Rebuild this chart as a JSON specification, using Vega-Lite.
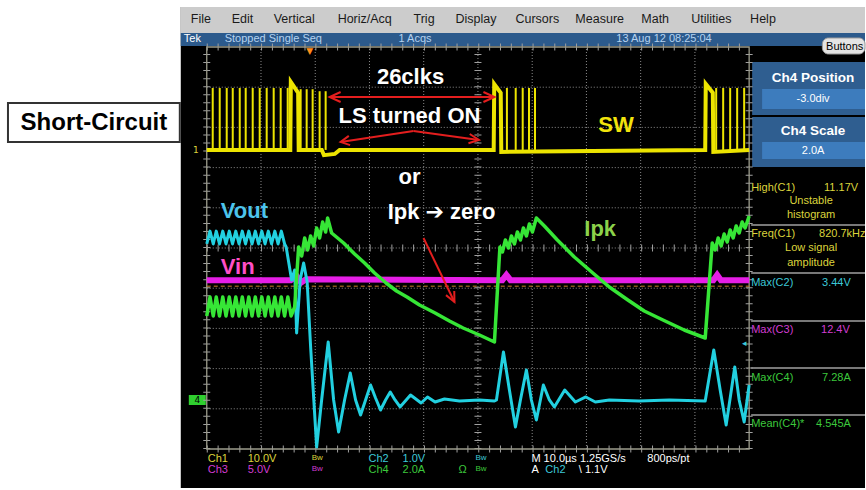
{
"$schema":"https://vega.github.io/schema/vega-lite/v6.json",
"width":866,"height":490,
"autosize":{"type":"fit","contains":"padding"},
"padding":0,
"background":"#ffffff",
"config":{"view":{"stroke":null},"font":"Liberation Sans"},
"encoding":{
 "x":{"field":"t","type":"quantitative","scale":{"domain":[-38.12,121.36],"nice":false,"zero":false},"axis":null},
 "y":{"field":"v","type":"quantitative","scale":{"domain":[-6.02,6.169],"nice":false,"zero":false},"axis":null}
},
"datasets":{
 "rects":[
  {"c":"screen","t":-4.79,"t2":121.36,"v":-5.97,"v2":5.995},
  {"c":"menubar","t":-4.79,"t2":121.36,"v":5.348,"v2":5.995},
  {"c":"statusbar","t":-4.79,"t2":121.36,"v":5.025,"v2":5.348},
  {"c":"box","t":100.55,"t2":121.36,"v":3.308,"v2":4.627},
  {"c":"field","t":102.39,"t2":121.36,"v":3.458,"v2":3.955},
  {"c":"box","t":100.55,"t2":121.36,"v":2.015,"v2":3.259},
  {"c":"field","t":102.39,"t2":121.36,"v":2.214,"v2":2.637},
  {"c":"tag","t":-3.31,"t2":-0.18,"v":-3.905,"v2":-3.657}
 ],
 "gridlines":[
  {"t":10,"t2":10,"v":-5,"v2":5},{"t":20,"t2":20,"v":-5,"v2":5},{"t":30,"t2":30,"v":-5,"v2":5},{"t":40,"t2":40,"v":-5,"v2":5},{"t":50,"t2":50,"v":-5,"v2":5},
  {"t":60,"t2":60,"v":-5,"v2":5},{"t":70,"t2":70,"v":-5,"v2":5},{"t":80,"t2":80,"v":-5,"v2":5},{"t":90,"t2":90,"v":-5,"v2":5},
  {"t":0,"t2":100,"v":-4,"v2":-4},{"t":0,"t2":100,"v":-3,"v2":-3},{"t":0,"t2":100,"v":-2,"v2":-2},{"t":0,"t2":100,"v":-1,"v2":-1},{"t":0,"t2":100,"v":0,"v2":0},
  {"t":0,"t2":100,"v":1,"v2":1},{"t":0,"t2":100,"v":2,"v2":2},{"t":0,"t2":100,"v":3,"v2":3},{"t":0,"t2":100,"v":4,"v2":4}
 ],
 "tickrows":[
  {"d":"h","t":0,"t2":100,"v":0,"v2":0},{"d":"h","t":0,"t2":100,"v":5,"v2":5},{"d":"h","t":0,"t2":100,"v":-5,"v2":-5},
  {"d":"v","t":50,"t2":50,"v":-5,"v2":5},{"d":"v","t":0,"t2":0,"v":-5,"v2":5},{"d":"v","t":100,"t2":100,"v":-5,"v2":5}
 ],
 "seps":[
  {"t":100.37,"t2":121.36,"v":0.572,"v2":0.572},{"t":100.37,"t2":121.36,"v":-0.622,"v2":-0.622},{"t":100.37,"t2":121.36,"v":-1.816,"v2":-1.816},
  {"t":100.37,"t2":121.36,"v":-2.985,"v2":-2.985},{"t":100.37,"t2":121.36,"v":-4.154,"v2":-4.154}
 ],
 "wave":[
  {"ch":"m","t":0,"v":-0.8},{"ch":"m","t":15.5,"v":-0.8},{"ch":"m","t":16.6,"v":-0.7},{"ch":"m","t":17.4,"v":-0.86},{"ch":"m","t":18.3,"v":-0.78},{"ch":"m","t":54.5,"v":-0.8},{"ch":"m","t":55.25,"v":-0.67},{"ch":"m","t":56.0,"v":-0.8},{"ch":"m","t":93.4,"v":-0.8},{"ch":"m","t":94.1,"v":-0.67},{"ch":"m","t":94.8,"v":-0.8},{"ch":"m","t":100,"v":-0.8},
  {"ch":"c","t":0,"v":0.1},{"ch":"c","t":0.6,"v":0.42},{"ch":"c","t":1.2,"v":0.1},{"ch":"c","t":1.75,"v":0.42},{"ch":"c","t":2.35,"v":0.1},{"ch":"c","t":2.95,"v":0.42},{"ch":"c","t":3.55,"v":0.1},{"ch":"c","t":4.15,"v":0.42},{"ch":"c","t":4.75,"v":0.1},{"ch":"c","t":5.35,"v":0.42},{"ch":"c","t":5.95,"v":0.1},{"ch":"c","t":6.55,"v":0.42},{"ch":"c","t":7.15,"v":0.1},{"ch":"c","t":7.75,"v":0.42},{"ch":"c","t":8.35,"v":0.1},{"ch":"c","t":8.95,"v":0.42},{"ch":"c","t":9.55,"v":0.1},{"ch":"c","t":10.15,"v":0.42},{"ch":"c","t":10.75,"v":0.1},{"ch":"c","t":11.35,"v":0.42},{"ch":"c","t":11.95,"v":0.1},{"ch":"c","t":12.55,"v":0.42},{"ch":"c","t":13.15,"v":0.1},{"ch":"c","t":13.75,"v":0.42},{"ch":"c","t":14.35,"v":0.1},
  {"ch":"c","t":14.64,"v":0.025},{"ch":"c","t":15.65,"v":-0.796},{"ch":"c","t":16.21,"v":-0.547},{"ch":"c","t":16.57,"v":-2.114},{"ch":"c","t":17.22,"v":-0.796},{"ch":"c","t":17.86,"v":-0.373},{"ch":"c","t":18.51,"v":-0.846},{"ch":"c","t":19.15,"v":-2.463},{"ch":"c","t":20.26,"v":-4.95},{"ch":"c","t":21.18,"v":-3.781},{"ch":"c","t":22.39,"v":-2.338},{"ch":"c","t":23.39,"v":-3.781},{"ch":"c","t":24.31,"v":-4.577},{"ch":"c","t":25.41,"v":-3.781},{"ch":"c","t":26.46,"v":-3.109},{"ch":"c","t":27.44,"v":-3.781},{"ch":"c","t":28.36,"v":-4.154},{"ch":"c","t":29.28,"v":-3.781},{"ch":"c","t":30.2,"v":-3.408},{"ch":"c","t":31.12,"v":-3.731},{"ch":"c","t":32.04,"v":-4.03},{"ch":"c","t":32.97,"v":-3.781},{"ch":"c","t":33.83,"v":-3.582},{"ch":"c","t":34.71,"v":-3.781},{"ch":"c","t":35.64,"v":-3.955},{"ch":"c","t":37.57,"v":-3.657},{"ch":"c","t":39.52,"v":-3.856},{"ch":"c","t":40.7,"v":-3.706},{"ch":"c","t":42.1,"v":-3.831},{"ch":"c","t":43.83,"v":-3.756},{"ch":"c","t":46.59,"v":-3.806},{"ch":"c","t":50.28,"v":-3.781},{"ch":"c","t":53.04,"v":-3.806},{"ch":"c","t":53.41,"v":-3.781},{"ch":"c","t":54.7,"v":-2.587},{"ch":"c","t":55.8,"v":-3.532},{"ch":"c","t":56.91,"v":-4.453},{"ch":"c","t":57.83,"v":-3.781},{"ch":"c","t":58.93,"v":-3.035},{"ch":"c","t":59.85,"v":-3.781},{"ch":"c","t":60.77,"v":-4.279},{"ch":"c","t":62.06,"v":-3.408},{"ch":"c","t":63.17,"v":-3.781},{"ch":"c","t":64.09,"v":-3.955},{"ch":"c","t":66.0,"v":-3.532},{"ch":"c","t":67.96,"v":-3.831},{"ch":"c","t":69.89,"v":-3.706},{"ch":"c","t":71.64,"v":-3.831},{"ch":"c","t":74.22,"v":-3.781},{"ch":"c","t":79.74,"v":-3.806},{"ch":"c","t":85.27,"v":-3.781},{"ch":"c","t":91.9,"v":-3.806},{"ch":"c","t":93.48,"v":-2.537},{"ch":"c","t":94.66,"v":-3.532},{"ch":"c","t":95.76,"v":-4.403},{"ch":"c","t":97.35,"v":-2.96},{"ch":"c","t":98.16,"v":-3.781},{"ch":"c","t":99.08,"v":-4.328},{"ch":"c","t":100,"v":-3.408},
  {"ch":"g","t":0,"v":-1.69},{"ch":"g","t":0.6,"v":-1.22},{"ch":"g","t":1.2,"v":-1.69},{"ch":"g","t":1.75,"v":-1.22},{"ch":"g","t":2.35,"v":-1.69},{"ch":"g","t":2.95,"v":-1.22},{"ch":"g","t":3.55,"v":-1.69},{"ch":"g","t":4.15,"v":-1.22},{"ch":"g","t":4.75,"v":-1.69},{"ch":"g","t":5.35,"v":-1.22},{"ch":"g","t":5.95,"v":-1.69},{"ch":"g","t":6.55,"v":-1.22},{"ch":"g","t":7.15,"v":-1.69},{"ch":"g","t":7.75,"v":-1.22},{"ch":"g","t":8.35,"v":-1.69},{"ch":"g","t":8.95,"v":-1.22},{"ch":"g","t":9.55,"v":-1.69},{"ch":"g","t":10.15,"v":-1.22},{"ch":"g","t":10.75,"v":-1.69},{"ch":"g","t":11.35,"v":-1.22},{"ch":"g","t":11.95,"v":-1.69},{"ch":"g","t":12.55,"v":-1.22},{"ch":"g","t":13.15,"v":-1.69},{"ch":"g","t":13.75,"v":-1.22},{"ch":"g","t":14.35,"v":-1.69},{"ch":"g","t":14.95,"v":-1.22},{"ch":"g","t":15.55,"v":-1.69},
  {"ch":"g","t":16.21,"v":-1.468},{"ch":"g","t":16.94,"v":0.025},{"ch":"g","t":17.5,"v":-0.199},{"ch":"g","t":18.05,"v":0.249},{"ch":"g","t":18.6,"v":-0.05},{"ch":"g","t":19.15,"v":0.299},{"ch":"g","t":19.71,"v":0.05},{"ch":"g","t":20.26,"v":0.498},{"ch":"g","t":20.81,"v":0.249},{"ch":"g","t":21.36,"v":0.647},{"ch":"g","t":21.92,"v":0.398},{"ch":"g","t":22.28,"v":0.746},{"ch":"g","t":23.02,"v":0.373},{"ch":"g","t":24.13,"v":0.249},{"ch":"g","t":25.23,"v":0.124},{"ch":"g","t":27.26,"v":-0.149},{"ch":"g","t":29.1,"v":-0.373},{"ch":"g","t":30.94,"v":-0.622},{"ch":"g","t":33.06,"v":-0.871},{"ch":"g","t":34.99,"v":-1.07},{"ch":"g","t":36.92,"v":-1.219},{"ch":"g","t":39.23,"v":-1.418},{"ch":"g","t":42.1,"v":-1.617},{"ch":"g","t":44.75,"v":-1.816},{"ch":"g","t":47.27,"v":-1.99},{"ch":"g","t":50.28,"v":-2.164},{"ch":"g","t":53.04,"v":-2.338},
  {"ch":"g","t":54.05,"v":0.025},{"ch":"g","t":54.51,"v":-0.1},{"ch":"g","t":55.06,"v":0.199},{"ch":"g","t":55.62,"v":0},{"ch":"g","t":56.17,"v":0.299},{"ch":"g","t":56.72,"v":0.1},{"ch":"g","t":57.27,"v":0.398},{"ch":"g","t":57.83,"v":0.199},{"ch":"g","t":58.38,"v":0.498},{"ch":"g","t":58.93,"v":0.299},{"ch":"g","t":59.48,"v":0.597},{"ch":"g","t":60.04,"v":0.398},{"ch":"g","t":60.77,"v":0.746},{"ch":"g","t":62.25,"v":0.547},{"ch":"g","t":64.64,"v":0.199},{"ch":"g","t":67.77,"v":-0.224},{"ch":"g","t":71.18,"v":-0.622},{"ch":"g","t":74.22,"v":-0.97},{"ch":"g","t":77.64,"v":-1.294},{"ch":"g","t":80.66,"v":-1.567},{"ch":"g","t":84.11,"v":-1.791},{"ch":"g","t":88.03,"v":-2.04},{"ch":"g","t":91.9,"v":-2.239},
  {"ch":"g","t":93.19,"v":0.124},{"ch":"g","t":93.74,"v":-0.05},{"ch":"g","t":94.29,"v":0.249},{"ch":"g","t":94.84,"v":0.05},{"ch":"g","t":95.4,"v":0.348},{"ch":"g","t":95.95,"v":0.149},{"ch":"g","t":96.5,"v":0.448},{"ch":"g","t":97.05,"v":0.249},{"ch":"g","t":97.61,"v":0.547},{"ch":"g","t":98.16,"v":0.373},{"ch":"g","t":98.71,"v":0.647},{"ch":"g","t":99.26,"v":0.498},{"ch":"g","t":100,"v":0.796},
  {"ch":"y","t":0,"v":2.44},{"ch":"y","t":15.4,"v":2.44},{"ch":"y","t":15.5,"v":4.13},{"ch":"y","t":16.85,"v":3.86},{"ch":"y","t":16.95,"v":2.44},{"ch":"y","t":21.2,"v":2.44},{"ch":"y","t":21.6,"v":2.31},{"ch":"y","t":23.6,"v":2.34},{"ch":"y","t":24.5,"v":2.44},{"ch":"y","t":52.9,"v":2.44},{"ch":"y","t":53.0,"v":4.08},{"ch":"y","t":54.2,"v":3.86},{"ch":"y","t":54.3,"v":2.39},{"ch":"y","t":91.9,"v":2.44},{"ch":"y","t":92.0,"v":4.08},{"ch":"y","t":93.3,"v":3.86},{"ch":"y","t":93.4,"v":2.39},{"ch":"y","t":100,"v":2.44}
 ],
 "pulses":[
  {"t":1.1,"lo":2.44,"hi":3.98},{"t":2.39,"lo":2.44,"hi":3.98},{"t":3.68,"lo":2.44,"hi":3.98},{"t":4.79,"lo":2.44,"hi":3.98},{"t":6.08,"lo":2.44,"hi":3.98},{"t":7.18,"lo":2.44,"hi":3.98},{"t":8.47,"lo":2.44,"hi":3.98},{"t":9.76,"lo":2.44,"hi":3.98},{"t":11.05,"lo":2.44,"hi":3.98},{"t":12.34,"lo":2.44,"hi":3.98},{"t":13.63,"lo":2.44,"hi":3.98},{"t":14.92,"lo":2.44,"hi":3.98},
  {"t":17.31,"lo":2.44,"hi":3.95},{"t":18.42,"lo":2.44,"hi":3.95},{"t":19.52,"lo":2.44,"hi":3.95},{"t":20.81,"lo":2.44,"hi":3.9},{"t":21.92,"lo":2.44,"hi":3.9},
  {"t":55.34,"lo":2.44,"hi":3.98},{"t":56.96,"lo":2.44,"hi":3.98},{"t":58.25,"lo":2.44,"hi":3.98},{"t":59.41,"lo":2.44,"hi":3.98},{"t":60.52,"lo":2.44,"hi":3.98},
  {"t":93.92,"lo":2.44,"hi":3.98},{"t":95.21,"lo":2.44,"hi":3.98},{"t":96.5,"lo":2.44,"hi":3.98},{"t":97.79,"lo":2.44,"hi":3.98},{"t":99.08,"lo":2.44,"hi":3.98}
 ],
 "arrows":[
  {"id":"a1","i":0,"t":22.65,"v":3.756},{"id":"a1","i":1,"t":53.04,"v":3.756},
  {"id":"a1l","i":0,"t":24.68,"v":3.881},{"id":"a1l","i":1,"t":22.65,"v":3.756},{"id":"a1l","i":2,"t":24.68,"v":3.632},
  {"id":"a1r","i":0,"t":51.01,"v":3.881},{"id":"a1r","i":1,"t":53.04,"v":3.756},{"id":"a1r","i":2,"t":51.01,"v":3.632},
  {"id":"a2","i":0,"t":38.12,"v":2.91},{"id":"a2","i":1,"t":24.68,"v":2.637},
  {"id":"a2h","i":0,"t":26.43,"v":2.56},{"id":"a2h","i":1,"t":24.68,"v":2.637},{"id":"a2h","i":2,"t":26.19,"v":2.788},
  {"id":"a3","i":0,"t":38.12,"v":2.91},{"id":"a3","i":1,"t":50.18,"v":2.687},
  {"id":"a3h","i":0,"t":48.49,"v":2.836},{"id":"a3h","i":1,"t":50.18,"v":2.687},{"id":"a3h","i":2,"t":48.25,"v":2.604},
  {"id":"a4","i":0,"t":39.96,"v":0.249},{"id":"a4","i":1,"t":45.67,"v":-1.343},
  {"id":"a4h","i":0,"t":45.63,"v":-1.07},{"id":"a4h","i":1,"t":45.67,"v":-1.343},{"id":"a4h","i":2,"t":44.11,"v":-1.172}
 ],
 "txt":[
  {"g":"ann","t":37.57,"v":4.254,"s":"26clks","c":"white"},
  {"g":"ann","t":37.38,"v":3.284,"s":"LS turned ON","c":"white"},
  {"g":"ann","t":37.38,"v":1.766,"s":"or","c":"white"},
  {"g":"ann","t":43.28,"v":0.896,"s":"Ipk ➔ zero","c":"white"},
  {"g":"lab","t":2.58,"v":0.92,"s":"Vout","c":"lvout"},
  {"g":"lab","t":2.58,"v":-0.473,"s":"Vin","c":"lvin"},
  {"g":"lab","t":69.61,"v":0.473,"s":"Ipk","c":"lipk"},
  {"g":"lab","t":72.19,"v":3.06,"s":"SW","c":"lsw"},
  {"g":"short","t":-20.81,"v":3.109,"s":"Short-Circuit","c":"black"},
  {"g":"menu","t":-2.95,"v":5.697,"s":"File","c":"menu"},
  {"g":"menu","t":4.6,"v":5.697,"s":"Edit","c":"menu"},
  {"g":"menu","t":12.34,"v":5.697,"s":"Vertical","c":"menu"},
  {"g":"menu","t":24.13,"v":5.697,"s":"Horiz/Acq","c":"menu"},
  {"g":"menu","t":38.12,"v":5.697,"s":"Trig","c":"menu"},
  {"g":"menu","t":45.86,"v":5.697,"s":"Display","c":"menu"},
  {"g":"menu","t":56.91,"v":5.697,"s":"Cursors","c":"menu"},
  {"g":"menu","t":67.96,"v":5.697,"s":"Measure","c":"menu"},
  {"g":"menu","t":80.11,"v":5.697,"s":"Math","c":"menu"},
  {"g":"menu","t":89.32,"v":5.697,"s":"Utilities","c":"menu"},
  {"g":"menu","t":100.18,"v":5.697,"s":"Help","c":"menu"},
  {"g":"s11","t":-4.24,"v":5.187,"s":"Tek","c":"white"},
  {"g":"s11","t":3.31,"v":5.187,"s":"Stopped  Single Seq","c":"stat"},
  {"g":"s11","t":35.36,"v":5.187,"s":"1 Acqs","c":"stat"},
  {"g":"s11","t":75.51,"v":5.187,"s":"13 Aug 12 08:25:04","c":"stat"},
  {"g":"s11","t":114.18,"v":5.012,"s":"Buttons","c":"black"},
  {"g":"s11","t":100.37,"v":1.493,"s":"High(C1)","c":"ch1"},
  {"g":"s11","t":113.81,"v":1.493,"s":"11.17V","c":"ch1"},
  {"g":"s11","t":100.37,"v":0.348,"s":"Freq(C1)","c":"ch1"},
  {"g":"s11","t":112.89,"v":0.348,"s":"820.7kHz","c":"ch1"},
  {"g":"s11","t":100.37,"v":-0.871,"s":"Max(C2)","c":"ch2"},
  {"g":"s11","t":113.44,"v":-0.871,"s":"3.44V","c":"ch2"},
  {"g":"s11","t":100.37,"v":-2.04,"s":"Max(C3)","c":"ch3"},
  {"g":"s11","t":113.26,"v":-2.04,"s":"12.4V","c":"ch3"},
  {"g":"s11","t":100.37,"v":-3.234,"s":"Max(C4)","c":"ch4"},
  {"g":"s11","t":113.44,"v":-3.234,"s":"7.28A","c":"ch4"},
  {"g":"s11","t":100.37,"v":-4.378,"s":"Mean(C4)*","c":"ch4"},
  {"g":"s11","t":112.34,"v":-4.378,"s":"4.545A","c":"ch4"},
  {"g":"s11","t":0.18,"v":-5.249,"s":"Ch1","c":"ch1"},
  {"g":"s11","t":7.55,"v":-5.249,"s":"10.0V","c":"ch1"},
  {"g":"s11","t":29.83,"v":-5.249,"s":"Ch2","c":"ch2"},
  {"g":"s11","t":36.1,"v":-5.249,"s":"1.0V","c":"ch2"},
  {"g":"s11","t":59.85,"v":-5.249,"s":"M 10.0µs 1.25GS/s","c":"white"},
  {"g":"s11","t":81.22,"v":-5.249,"s":"800ps/pt","c":"white"},
  {"g":"s11","t":0.18,"v":-5.522,"s":"Ch3","c":"ch3"},
  {"g":"s11","t":7.55,"v":-5.522,"s":"5.0V","c":"ch3"},
  {"g":"s11","t":29.83,"v":-5.522,"s":"Ch4","c":"ch4"},
  {"g":"s11","t":36.1,"v":-5.522,"s":"2.0A","c":"ch4"},
  {"g":"s11","t":46.41,"v":-5.522,"s":"Ω","c":"ch4"},
  {"g":"s11","t":59.85,"v":-5.522,"s":"A","c":"white"},
  {"g":"s11","t":62.43,"v":-5.522,"s":"Ch2","c":"ch2"},
  {"g":"s11","t":68.6,"v":-5.522,"s":"\\  1.1V","c":"white"},
  {"g":"c11","t":111.42,"v":1.169,"s":"Unstable","c":"ch1"},
  {"g":"c11","t":111.42,"v":0.821,"s":"histogram","c":"ch1"},
  {"g":"c11","t":111.42,"v":0.0,"s":"Low signal","c":"ch1"},
  {"g":"c11","t":111.42,"v":-0.373,"s":"amplitude","c":"ch1"},
  {"g":"ptitle","t":111.79,"v":4.229,"s":"Ch4 Position","c":"white"},
  {"g":"ptitle","t":111.79,"v":2.91,"s":"Ch4 Scale","c":"white"},
  {"g":"pval","t":111.79,"v":3.706,"s":"-3.0div","c":"white"},
  {"g":"pval","t":111.79,"v":2.425,"s":"2.0A","c":"white"},
  {"g":"bw","t":19.34,"v":-5.22,"s":"Bw","c":"ch1"},
  {"g":"bw","t":49.54,"v":-5.22,"s":"Bw","c":"ch2"},
  {"g":"bw","t":19.34,"v":-5.49,"s":"Bw","c":"ch3"},
  {"g":"bw","t":49.54,"v":-5.49,"s":"Bw","c":"ch4"},
  {"g":"misc","t":-2.03,"v":2.44,"s":"1","c":"ch1"},
  {"g":"misc","t":-1.75,"v":-3.781,"s":"4","c":"black"},
  {"g":"misc","t":18.97,"v":4.9,"s":"▼","c":"orange"},
  {"g":"misc","t":99.08,"v":-2.363,"s":"◂","c":"ch2"}
 ]
},
"layer":[
 {"data":{"name":"rects"},"mark":{"type":"rect"},
  "encoding":{"x2":{"field":"t2"},"y2":{"field":"v2"},
   "color":{"field":"c","type":"nominal","legend":null,"scale":{"domain":["screen","menubar","statusbar","box","field","tag","white","black","menu","stat","ch1","ch2","ch3","ch4","lvout","lvin","lipk","lsw","orange"],"range":["#000000","#cccccc","#2c5a8c","#2f5e90","#3d7cbd","#2fcf2f","#ffffff","#000000","#1a1a1a","#b4d2f0","#dcd43c","#3cc8d8","#d23cd2","#3cc83c","#4cc4ec","#ff4fc8","#8cd24a","#f2e40c","#ff8c1a"]}}}},
 {"data":{"values":[{"t":-36.65,"t2":-4.97,"v":2.637,"v2":3.607}]},"mark":{"type":"rect","fill":"#ffffff","stroke":"#333333","strokeWidth":2},
  "encoding":{"x2":{"field":"t2"},"y2":{"field":"v2"}}},
 {"data":{"values":[{"t":113.5,"t2":121.36,"v":4.826,"v2":5.224}]},"mark":{"type":"rect","fill":"#e4e4e4","stroke":"#9a9a9a","cornerRadius":6},
  "encoding":{"x2":{"field":"t2"},"y2":{"field":"v2"}}},
 {"data":{"name":"gridlines"},"mark":{"type":"rule","color":"#8c8c8c","strokeWidth":1,"strokeDash":[1,2]},
  "encoding":{"x2":{"field":"t2"},"y2":{"field":"v2"}}},
 {"data":{"name":"tickrows"},"transform":[{"filter":{"field":"d","equal":"h"}}],"mark":{"type":"rule","color":"#a0a0a0","strokeWidth":7,"strokeDash":[1,9.86]},
  "encoding":{"x2":{"field":"t2"},"y2":{"field":"v2"}}},
 {"data":{"name":"tickrows"},"transform":[{"filter":{"field":"d","equal":"v"}}],"mark":{"type":"rule","color":"#a0a0a0","strokeWidth":7,"strokeDash":[1,7.04]},
  "encoding":{"x2":{"field":"t2"},"y2":{"field":"v2"}}},
 {"data":{"values":[{"t":0,"t2":100,"v":-5,"v2":5}]},"mark":{"type":"rect","filled":false,"stroke":"#9c9c8c","strokeWidth":1.3},
  "encoding":{"x2":{"field":"t2"},"y2":{"field":"v2"}}},
 {"data":{"name":"seps"},"mark":{"type":"rule","color":"#a0a0a0","strokeWidth":1.5},
  "encoding":{"x2":{"field":"t2"},"y2":{"field":"v2"}}},
 {"data":{"values":[{"t":0,"t2":100,"v":-0.95,"v2":-0.95}]},"mark":{"type":"rule","color":"#d0802c","strokeWidth":1,"strokeDash":[4,3]},
  "encoding":{"x2":{"field":"t2"},"y2":{"field":"v2"}}},
 {"data":{"name":"wave"},"transform":[{"filter":{"field":"ch","equal":"m"}}],"mark":{"type":"line","color":"#e61ee6","strokeWidth":6}},
 {"data":{"name":"wave"},"transform":[{"filter":{"field":"ch","equal":"c"}}],"mark":{"type":"line","color":"#22d0e0","strokeWidth":3,"strokeJoin":"round"}},
 {"data":{"name":"wave"},"transform":[{"filter":{"field":"ch","equal":"g"}}],"mark":{"type":"line","color":"#36e636","strokeWidth":3.5,"strokeJoin":"round"}},
 {"data":{"name":"wave"},"transform":[{"filter":{"field":"ch","equal":"y"}}],"mark":{"type":"line","color":"#ece400","strokeWidth":4}},
 {"data":{"name":"pulses"},"mark":{"type":"rule","color":"#ece400","strokeWidth":2},
  "encoding":{"y":{"field":"lo","type":"quantitative"},"y2":{"field":"hi"}}},
 {"data":{"name":"arrows"},"mark":{"type":"line","color":"#e41e1e","strokeWidth":2},
  "encoding":{"detail":{"field":"id"},"order":{"field":"i","type":"quantitative"}}},
 {"data":{"name":"txt"},"transform":[{"filter":{"field":"g","equal":"ann"}}],"mark":{"type":"text","align":"center","baseline":"middle","fontSize":22,"fontWeight":"bold","font":"Liberation Sans, DejaVu Sans","color":"#ffffff"},
  "encoding":{"text":{"field":"s"}}},
 {"data":{"name":"txt"},"transform":[{"filter":{"field":"g","equal":"short"}}],"mark":{"type":"text","align":"center","baseline":"middle","fontSize":24,"fontWeight":"bold","font":"Liberation Sans","color":"#000000"},
  "encoding":{"text":{"field":"s"}}},
 {"data":{"name":"txt"},"transform":[{"filter":{"field":"g","equal":"menu"}}],"mark":{"type":"text","align":"left","baseline":"middle","fontSize":12.5,"font":"Liberation Sans","color":"#1a1a1a"},
  "encoding":{"text":{"field":"s"}}},
 {"data":{"name":"txt"},"transform":[{"filter":{"field":"g","equal":"ptitle"}}],"mark":{"type":"text","align":"center","baseline":"middle","fontSize":13.5,"fontWeight":"bold","font":"Liberation Sans","color":"#ffffff"},
  "encoding":{"text":{"field":"s"}}},
 {"data":{"name":"txt"},"transform":[{"filter":{"field":"g","equal":"pval"}}],"mark":{"type":"text","align":"center","baseline":"middle","fontSize":11,"font":"Liberation Sans","color":"#ffffff"},
  "encoding":{"text":{"field":"s"}}},
 {"data":{"name":"txt"},"transform":[{"filter":{"field":"g","equal":"lab"}}],"mark":{"type":"text","align":"left","baseline":"middle","fontSize":22,"fontWeight":"bold","font":"Liberation Sans"},
  "encoding":{"text":{"field":"s"},
   "color":{"field":"c","type":"nominal","legend":null,"scale":{"domain":["screen","menubar","statusbar","box","field","tag","white","black","menu","stat","ch1","ch2","ch3","ch4","lvout","lvin","lipk","lsw","orange"],"range":["#000000","#cccccc","#2c5a8c","#2f5e90","#3d7cbd","#2fcf2f","#ffffff","#000000","#1a1a1a","#b4d2f0","#dcd43c","#3cc8d8","#d23cd2","#3cc83c","#4cc4ec","#ff4fc8","#8cd24a","#f2e40c","#ff8c1a"]}}}},
 {"data":{"name":"txt"},"transform":[{"filter":{"field":"g","equal":"s11"}}],"mark":{"type":"text","align":"left","baseline":"middle","fontSize":11,"font":"Liberation Sans Narrow, Liberation Sans"},
  "encoding":{"text":{"field":"s"},
   "color":{"field":"c","type":"nominal","legend":null,"scale":{"domain":["screen","menubar","statusbar","box","field","tag","white","black","menu","stat","ch1","ch2","ch3","ch4","lvout","lvin","lipk","lsw","orange"],"range":["#000000","#cccccc","#2c5a8c","#2f5e90","#3d7cbd","#2fcf2f","#ffffff","#000000","#1a1a1a","#b4d2f0","#dcd43c","#3cc8d8","#d23cd2","#3cc83c","#4cc4ec","#ff4fc8","#8cd24a","#f2e40c","#ff8c1a"]}}}},
 {"data":{"name":"txt"},"transform":[{"filter":{"field":"g","equal":"c11"}}],"mark":{"type":"text","align":"center","baseline":"middle","fontSize":11,"font":"Liberation Sans Narrow, Liberation Sans"},
  "encoding":{"text":{"field":"s"},
   "color":{"field":"c","type":"nominal","legend":null,"scale":{"domain":["screen","menubar","statusbar","box","field","tag","white","black","menu","stat","ch1","ch2","ch3","ch4","lvout","lvin","lipk","lsw","orange"],"range":["#000000","#cccccc","#2c5a8c","#2f5e90","#3d7cbd","#2fcf2f","#ffffff","#000000","#1a1a1a","#b4d2f0","#dcd43c","#3cc8d8","#d23cd2","#3cc83c","#4cc4ec","#ff4fc8","#8cd24a","#f2e40c","#ff8c1a"]}}}},
 {"data":{"name":"txt"},"transform":[{"filter":{"field":"g","equal":"bw"}}],"mark":{"type":"text","align":"left","baseline":"middle","fontSize":8,"font":"Liberation Sans"},
  "encoding":{"text":{"field":"s"},
   "color":{"field":"c","type":"nominal","legend":null,"scale":{"domain":["screen","menubar","statusbar","box","field","tag","white","black","menu","stat","ch1","ch2","ch3","ch4","lvout","lvin","lipk","lsw","orange"],"range":["#000000","#cccccc","#2c5a8c","#2f5e90","#3d7cbd","#2fcf2f","#ffffff","#000000","#1a1a1a","#b4d2f0","#dcd43c","#3cc8d8","#d23cd2","#3cc83c","#4cc4ec","#ff4fc8","#8cd24a","#f2e40c","#ff8c1a"]}}}},
 {"data":{"name":"txt"},"transform":[{"filter":{"field":"g","equal":"misc"}}],"mark":{"type":"text","align":"center","baseline":"middle","fontSize":9,"font":"DejaVu Sans"},
  "encoding":{"text":{"field":"s"},
   "color":{"field":"c","type":"nominal","legend":null,"scale":{"domain":["screen","menubar","statusbar","box","field","tag","white","black","menu","stat","ch1","ch2","ch3","ch4","lvout","lvin","lipk","lsw","orange"],"range":["#000000","#cccccc","#2c5a8c","#2f5e90","#3d7cbd","#2fcf2f","#ffffff","#000000","#1a1a1a","#b4d2f0","#dcd43c","#3cc8d8","#d23cd2","#3cc83c","#4cc4ec","#ff4fc8","#8cd24a","#f2e40c","#ff8c1a"]}}}}
]
}
